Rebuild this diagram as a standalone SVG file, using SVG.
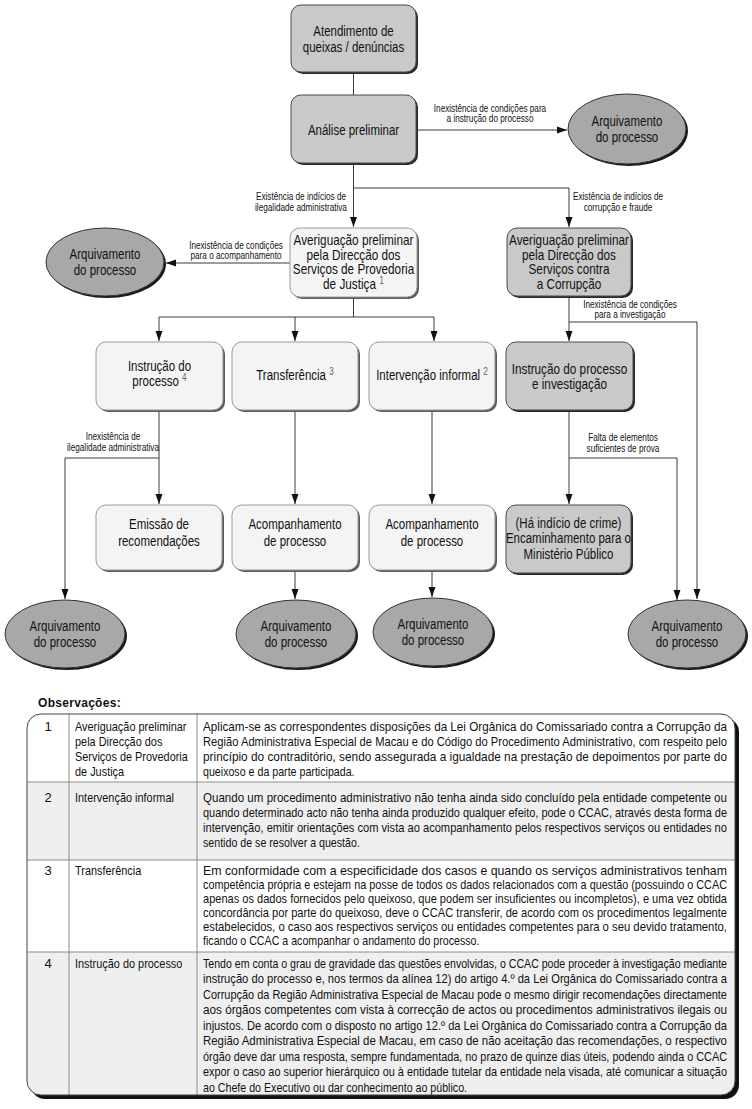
<svg xmlns="http://www.w3.org/2000/svg" width="752" height="1109" viewBox="0 0 752 1109">
<defs>
<style>
text{font-family:"Liberation Sans Narrow","Liberation Sans",Arial,sans-serif;fill:#111}
.nt{font-size:14px;text-anchor:middle}
.el{font-size:10px;text-anchor:middle}
.sup{font-size:10px;fill:#666}
.tb{font-size:13px}
.num{font-size:13px;text-anchor:middle}
.grey{fill:#c9c9c9;stroke:#4a4a4a;stroke-width:1}
.light{fill:#f4f4f4;stroke:#9a9a9a;stroke-width:1}
.shd{fill:#2a2a2a}
.shl{fill:#5a5a5a}
.ell{fill:#a8a8a8;stroke:#333;stroke-width:1}
.esh{fill:#1a1a1a}
.cn{fill:none;stroke:#3a3a3a;stroke-width:1}
.ar{marker-end:url(#ah)}
</style>
<marker id="ah" markerWidth="10" markerHeight="8" refX="10" refY="4" orient="auto" markerUnits="userSpaceOnUse">
<path d="M0,0.5 L10,4 L0,7.5 z" fill="#111"/>
</marker>
<clipPath id="tc"><rect x="27" y="714" width="708" height="381" rx="14"/></clipPath>
</defs>
<rect width="752" height="1109" fill="#fff"/>

<g id="connectors">
<path class="cn" d="M353.5,72 V95"/>
<path class="cn ar" d="M416,130 H567"/>
<path class="cn ar" d="M353.5,163 V227"/>
<path class="cn ar" d="M353.5,188 H569 V227"/>
<path class="cn ar" d="M290,263 H166"/>
<path class="cn" d="M353.5,297 V317 M159,317 H434"/>
<path class="cn ar" d="M159,317 V341"/>
<path class="cn ar" d="M295,317 V341"/>
<path class="cn ar" d="M434,317 V341"/>
<path class="cn ar" d="M569,296 V341"/>
<path class="cn ar" d="M569,322 H697 V599"/>
<path class="cn ar" d="M569,410 V504"/>
<path class="cn ar" d="M569,458 H677 V600"/>
<path class="cn ar" d="M159,410 V504"/>
<path class="cn ar" d="M159,458 H65 V599"/>
<path class="cn ar" d="M295,410 V504"/>
<path class="cn ar" d="M295,570 V599"/>
<path class="cn ar" d="M432,410 V504"/>
<path class="cn ar" d="M432,570 V597"/>
<text class="el" x="490" y="112" transform="matrix(.82 0 0 1 88.2 0)">Inexistência de condições para</text>
<text class="el" x="490" y="122.5" transform="matrix(.82 0 0 1 88.2 0)">a instrução do processo</text>
<text class="el" x="301" y="200" transform="matrix(.82 0 0 1 54.18 0)">Existência de indícios de</text>
<text class="el" x="301" y="211" transform="matrix(.82 0 0 1 54.18 0)">ilegalidade administrativa</text>
<text class="el" x="618" y="200" transform="matrix(.82 0 0 1 111.24 0)">Existência de indícios de</text>
<text class="el" x="618" y="211" transform="matrix(.82 0 0 1 111.24 0)">corrupção e fraude</text>
<text class="el" x="236" y="249" transform="matrix(.82 0 0 1 42.48 0)">Inexistência de condições</text>
<text class="el" x="236" y="259.5" transform="matrix(.82 0 0 1 42.48 0)">para o acompanhamento</text>
<text class="el" x="630" y="308" transform="matrix(.82 0 0 1 113.4 0)">Inexistência de condições</text>
<text class="el" x="630" y="318.5" transform="matrix(.82 0 0 1 113.4 0)">para a investigação</text>
<text class="el" x="623" y="441" transform="matrix(.82 0 0 1 112.14 0)">Falta de elementos</text>
<text class="el" x="623" y="452" transform="matrix(.82 0 0 1 112.14 0)">suficientes de prova</text>
<text class="el" x="113" y="440" transform="matrix(.82 0 0 1 20.34 0)">Inexistência de</text>
<text class="el" x="113" y="451" transform="matrix(.82 0 0 1 20.34 0)">ilegalidade administrativa</text>
</g>

<g id="n-atendimento">
<rect class="shd" x="293" y="7" width="125" height="67" rx="10"/>
<rect class="grey" x="291" y="5" width="125" height="67" rx="10"/>
<text class="nt" x="353.5" y="36" transform="matrix(.82 0 0 1 63.63 0)">Atendimento de</text>
<text class="nt" x="353.5" y="52" transform="matrix(.82 0 0 1 63.63 0)">queixas / denúncias</text>
</g>
<g id="n-analise">
<rect class="shd" x="293" y="97" width="125" height="68" rx="10"/>
<rect class="grey" x="291" y="95" width="125" height="68" rx="10"/>
<text class="nt" x="353.5" y="135" transform="matrix(.82 0 0 1 63.63 0)">Análise preliminar</text>
</g>
<g id="e-arq1">
<ellipse class="esh" cx="629" cy="131" rx="59" ry="35"/>
<ellipse class="ell" cx="627" cy="129" rx="59" ry="35"/>
<text class="nt" x="627" y="126" transform="matrix(.82 0 0 1 112.86 0)">Arquivamento</text>
<text class="nt" x="627" y="142" transform="matrix(.82 0 0 1 112.86 0)">do processo</text>
</g>
<g id="n-avp">
<rect class="shl" x="292" y="230" width="127" height="69" rx="10"/>
<rect class="light" x="290" y="228" width="127" height="69" rx="10"/>
<text class="nt" x="353.5" y="245.5" transform="matrix(.84 0 0 1 56.56 0)">Averiguação preliminar</text>
<text class="nt" x="353.5" y="260" transform="matrix(.84 0 0 1 56.56 0)">pela Direcção dos</text>
<text class="nt" x="353.5" y="274.5" transform="matrix(.84 0 0 1 56.56 0)">Serviços de Provedoria</text>
<text class="nt" x="353.5" y="289" transform="matrix(.84 0 0 1 56.56 0)">de Justiça <tspan class="sup" dy="-5">1</tspan></text>
</g>
<g id="n-avc">
<rect class="shd" x="509" y="230" width="124" height="68" rx="10"/>
<rect class="grey" x="507" y="228" width="124" height="68" rx="10"/>
<text class="nt" x="569" y="245.5" transform="matrix(.84 0 0 1 91.04 0)">Averiguação preliminar</text>
<text class="nt" x="569" y="260" transform="matrix(.84 0 0 1 91.04 0)">pela Direcção dos</text>
<text class="nt" x="569" y="274.5" transform="matrix(.84 0 0 1 91.04 0)">Serviços contra</text>
<text class="nt" x="569" y="289" transform="matrix(.84 0 0 1 91.04 0)">a Corrupção</text>
</g>
<g id="e-arq2">
<ellipse class="esh" cx="107" cy="264" rx="59" ry="34"/>
<ellipse class="ell" cx="105" cy="262" rx="59" ry="34"/>
<text class="nt" x="105" y="259" transform="matrix(.82 0 0 1 18.9 0)">Arquivamento</text>
<text class="nt" x="105" y="275" transform="matrix(.82 0 0 1 18.9 0)">do processo</text>
</g>
<g id="n-instrucao">
<rect class="shl" x="98" y="344" width="127" height="68" rx="10"/>
<rect class="light" x="96" y="342" width="127" height="68" rx="10"/>
<text class="nt" x="159.5" y="371" transform="matrix(.82 0 0 1 28.71 0)">Instrução do</text>
<text class="nt" x="159.5" y="386" transform="matrix(.82 0 0 1 28.71 0)">processo <tspan class="sup" dy="-5">4</tspan></text>
</g>
<g id="n-transferencia">
<rect class="shl" x="234" y="344" width="126" height="68" rx="10"/>
<rect class="light" x="232" y="342" width="126" height="68" rx="10"/>
<text class="nt" x="295" y="380" transform="matrix(.82 0 0 1 53.1 0)">Transferência <tspan class="sup" dy="-5">3</tspan></text>
</g>
<g id="n-intervencao">
<rect class="shl" x="371" y="344" width="126" height="68" rx="10"/>
<rect class="light" x="369" y="342" width="126" height="68" rx="10"/>
<text class="nt" x="432" y="380" transform="matrix(.82 0 0 1 77.76 0)">Intervenção informal <tspan class="sup" dy="-5">2</tspan></text>
</g>
<g id="n-investigacao">
<rect class="shd" x="508" y="344" width="127" height="68" rx="10"/>
<rect class="grey" x="506" y="342" width="127" height="68" rx="10"/>
<text class="nt" x="569.5" y="374" transform="matrix(.84 0 0 1 91.12 0)">Instrução do processo</text>
<text class="nt" x="569.5" y="389" transform="matrix(.84 0 0 1 91.12 0)">e investigação</text>
</g>
<g id="n-emissao">
<rect class="shl" x="98" y="507" width="126" height="65" rx="10"/>
<rect class="light" x="96" y="505" width="126" height="65" rx="10"/>
<text class="nt" x="159" y="529" transform="matrix(.82 0 0 1 28.62 0)">Emissão de</text>
<text class="nt" x="159" y="546" transform="matrix(.82 0 0 1 28.62 0)">recomendações</text>
</g>
<g id="n-acomp1">
<rect class="shl" x="234" y="507" width="126" height="65" rx="10"/>
<rect class="light" x="232" y="505" width="126" height="65" rx="10"/>
<text class="nt" x="295" y="529" transform="matrix(.82 0 0 1 53.1 0)">Acompanhamento</text>
<text class="nt" x="295" y="546" transform="matrix(.82 0 0 1 53.1 0)">de processo</text>
</g>
<g id="n-acomp2">
<rect class="shl" x="371" y="507" width="126" height="65" rx="10"/>
<rect class="light" x="369" y="505" width="126" height="65" rx="10"/>
<text class="nt" x="432" y="529" transform="matrix(.82 0 0 1 77.76 0)">Acompanhamento</text>
<text class="nt" x="432" y="546" transform="matrix(.82 0 0 1 77.76 0)">de processo</text>
</g>
<g id="n-mp">
<rect class="shd" x="508" y="507" width="125" height="68" rx="10"/>
<rect class="grey" x="506" y="505" width="125" height="68" rx="10"/>
<text class="nt" x="568.5" y="528" transform="matrix(.82 0 0 1 102.33 0)">(Há indício de crime)</text>
<text class="nt" x="568.5" y="543.5" transform="matrix(.82 0 0 1 102.33 0)">Encaminhamento para o</text>
<text class="nt" x="568.5" y="559" transform="matrix(.82 0 0 1 102.33 0)">Ministério Público</text>
</g>
<g id="e-arq3">
<ellipse class="esh" cx="67" cy="636" rx="60" ry="34"/>
<ellipse class="ell" cx="65" cy="634" rx="60" ry="34"/>
<text class="nt" x="65" y="631" transform="matrix(.82 0 0 1 11.7 0)">Arquivamento</text>
<text class="nt" x="65" y="647" transform="matrix(.82 0 0 1 11.7 0)">do processo</text>
</g>
<g id="e-arq4">
<ellipse class="esh" cx="298" cy="636" rx="60" ry="34"/>
<ellipse class="ell" cx="296" cy="634" rx="60" ry="34"/>
<text class="nt" x="296" y="631" transform="matrix(.82 0 0 1 53.28 0)">Arquivamento</text>
<text class="nt" x="296" y="647" transform="matrix(.82 0 0 1 53.28 0)">do processo</text>
</g>
<g id="e-arq5">
<ellipse class="esh" cx="435" cy="634" rx="60" ry="34"/>
<ellipse class="ell" cx="433" cy="632" rx="60" ry="34"/>
<text class="nt" x="433" y="629" transform="matrix(.82 0 0 1 77.94 0)">Arquivamento</text>
<text class="nt" x="433" y="645" transform="matrix(.82 0 0 1 77.94 0)">do processo</text>
</g>
<g id="e-arq6">
<ellipse class="esh" cx="689" cy="636" rx="59" ry="34"/>
<ellipse class="ell" cx="687" cy="634" rx="59" ry="34"/>
<text class="nt" x="687" y="631" transform="matrix(.82 0 0 1 123.66 0)">Arquivamento</text>
<text class="nt" x="687" y="647" transform="matrix(.82 0 0 1 123.66 0)">do processo</text>
</g>

<g id="observacoes">
<text x="38" y="707" style="font-size:12px;font-weight:bold;letter-spacing:0.3px">Observações:</text>
<rect x="31" y="718" width="708" height="381" rx="14" fill="#111"/>
<rect x="27" y="714" width="708" height="381" rx="14" fill="#fff"/>
<g clip-path="url(#tc)">
<rect x="27" y="782" width="708" height="78" fill="#efefef"/>
<rect x="27" y="952" width="708" height="143" fill="#efefef"/>
</g>
<path d="M27,782 H735 M27,860 H735 M27,952 H735 M69,714 V1095 M197,714 V1095" stroke="#8c8c8c" stroke-width="1" fill="none"/>
<rect x="27" y="714" width="708" height="381" rx="14" fill="none" stroke="#444" stroke-width="1"/>

<text class="num" x="48" y="731">1</text>
<text class="num" x="48" y="802">2</text>
<text class="num" x="48" y="875">3</text>
<text class="num" x="48" y="968">4</text>

<g transform="matrix(.84 0 0 1 12 0)">
<text class="tb" x="75" y="731">Averiguação preliminar</text>
<text class="tb" x="75" y="746">pela Direcção dos</text>
<text class="tb" x="75" y="761">Serviços de Provedoria</text>
<text class="tb" x="75" y="776">de Justiça</text>
<text class="tb" x="75" y="802">Intervenção informal</text>
<text class="tb" x="75" y="875">Transferência</text>
<text class="tb" x="75" y="968">Instrução do processo</text>
</g>

<g transform="matrix(.82 0 0 1 36.54 0)">
<text class="tb" x="203" y="731" textLength="639" lengthAdjust="spacingAndGlyphs">Aplicam-se as correspondentes disposições da Lei Orgânica do Comissariado contra a Corrupção da</text>
<text class="tb" x="203" y="746" textLength="639" lengthAdjust="spacingAndGlyphs">Região Administrativa Especial de Macau e do Código do Procedimento Administrativo, com respeito pelo</text>
<text class="tb" x="203" y="761" textLength="639" lengthAdjust="spacingAndGlyphs">princípio do contraditório, sendo assegurada a igualdade na prestação de depoimentos por parte do</text>
<text class="tb" x="203" y="776">queixoso e da parte participada.</text>

<text class="tb" x="203" y="802" textLength="639" lengthAdjust="spacingAndGlyphs">Quando um procedimento administrativo não tenha ainda sido concluído pela entidade competente ou</text>
<text class="tb" x="203" y="817" textLength="639" lengthAdjust="spacingAndGlyphs">quando determinado acto não tenha ainda produzido qualquer efeito, pode o CCAC, através desta forma de</text>
<text class="tb" x="203" y="832" textLength="639" lengthAdjust="spacingAndGlyphs">intervenção, emitir orientações com vista ao acompanhamento pelos respectivos serviços ou entidades no</text>
<text class="tb" x="203" y="847">sentido de se resolver a questão.</text>

<text class="tb" x="203" y="875" textLength="639" lengthAdjust="spacingAndGlyphs">Em conformidade com a especificidade dos casos e quando os serviços administrativos tenham</text>
<text class="tb" x="203" y="889" textLength="639" lengthAdjust="spacingAndGlyphs">competência própria e estejam na posse de todos os dados relacionados com a questão (possuindo o CCAC</text>
<text class="tb" x="203" y="903" textLength="639" lengthAdjust="spacingAndGlyphs">apenas os dados fornecidos pelo queixoso, que podem ser insuficientes ou incompletos), e uma vez obtida</text>
<text class="tb" x="203" y="917" textLength="639" lengthAdjust="spacingAndGlyphs">concordância por parte do queixoso, deve o CCAC transferir, de acordo com os procedimentos legalmente</text>
<text class="tb" x="203" y="931" textLength="639" lengthAdjust="spacingAndGlyphs">estabelecidos, o caso aos respectivos serviços ou entidades competentes para o seu devido tratamento,</text>
<text class="tb" x="203" y="945">ficando o CCAC a acompanhar o andamento do processo.</text>

<text class="tb" x="203" y="968" textLength="639" lengthAdjust="spacingAndGlyphs">Tendo em conta o grau de gravidade das questões envolvidas, o CCAC pode proceder à investigação mediante</text>
<text class="tb" x="203" y="983" textLength="639" lengthAdjust="spacingAndGlyphs">instrução do processo e, nos termos da alínea 12) do artigo 4.º da Lei Orgânica do Comissariado contra a</text>
<text class="tb" x="203" y="999" textLength="639" lengthAdjust="spacingAndGlyphs">Corrupção da Região Administrativa Especial de Macau pode o mesmo dirigir recomendações directamente</text>
<text class="tb" x="203" y="1014" textLength="639" lengthAdjust="spacingAndGlyphs">aos órgãos competentes com vista à correcção de actos ou procedimentos administrativos ilegais ou</text>
<text class="tb" x="203" y="1030" textLength="639" lengthAdjust="spacingAndGlyphs">injustos. De acordo com o disposto no artigo 12.º da Lei Orgânica do Comissariado contra a Corrupção da</text>
<text class="tb" x="203" y="1045" textLength="639" lengthAdjust="spacingAndGlyphs">Região Administrativa Especial de Macau, em caso de não aceitação das recomendações, o respectivo</text>
<text class="tb" x="203" y="1061" textLength="639" lengthAdjust="spacingAndGlyphs">órgão deve dar uma resposta, sempre fundamentada, no prazo de quinze dias úteis, podendo ainda o CCAC</text>
<text class="tb" x="203" y="1076" textLength="639" lengthAdjust="spacingAndGlyphs">expor o caso ao superior hierárquico ou à entidade tutelar da entidade nela visada, até comunicar a situação</text>
<text class="tb" x="203" y="1092">ao Chefe do Executivo ou dar conhecimento ao público.</text>
</g>
</g>
</svg>
